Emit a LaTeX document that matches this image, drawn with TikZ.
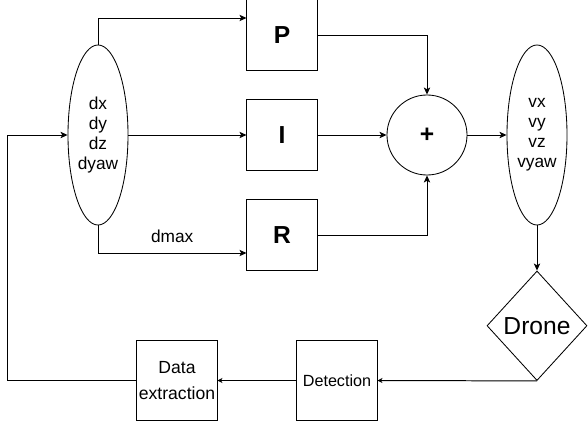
\documentclass[tikz,border=0pt]{standalone}
\usepackage{fontspec}
\setmainfont{Liberation Sans}
\usetikzlibrary{shapes.geometric, arrows.meta, positioning}

\begin{document}
\begin{tikzpicture}[
        x=0.025cm, y=-0.025cm,
        every node/.style={font=\fontsize{12.3}{14.2}\selectfont},
        box/.style={draw, line width=0.7pt, minimum width=1.75cm, minimum height=1.75cm, inner sep=0pt, align=center, font=\fontsize{17.5}{20}\selectfont\bfseries},
        stage/.style={draw, line width=0.7pt, minimum width=2cm, minimum height=2cm, inner sep=0pt, align=center},
        signal/.style={draw, ellipse, line width=0.6pt, minimum width=1.5cm, minimum height=4.5cm, inner sep=0pt, align=center},
        arrow/.style={-{Stealth[length=5pt, width=4.5pt, inset=1.2pt]}, line width=0.7pt},
        small arrow/.style={-{Stealth[length=3.5pt, width=3.5pt, inset=1pt]}, line width=0.7pt}
    ]
        \useasboundingbox (0,0) rectangle (588,421);

        % Error signals in, corrections out
        \node[signal] (err) at (98,135) {dx\\dy\\dz\\dyaw};
        \node[signal] (cmd) at (537,135) {vx\\vy\\vz\\vyaw};

        % Controller terms
        \node[box] (P) at (282,35) {P};
        \node[box] (I) at (282,135) {I};
        \node[box] (R) at (282,235) {R};

        \node[draw, circle, line width=0.6pt, minimum size=2cm, inner sep=0pt, font=\fontsize{17.5}{20}\selectfont\bfseries] (sum) at (427,135) {+};

        % Plant and measurement chain
        \node[draw, diamond, line width=0.6pt, minimum width=2.5cm, minimum height=2.7375cm, inner sep=0pt, font=\fontsize{17.5}{20}\selectfont] (drone) at (537,325.75) {Drone};
        \node[stage, font=\fontsize{11.5}{14}\selectfont] (detect) at (337,380.5) {Detection};
        \node[stage, font=\fontsize{12.5}{18.5}\selectfont] (extract) at (177,380.5) {Data\\extraction};

        % Arrows into the terms
        \draw[arrow] (err.north) |- ([yshift=0.425cm]P.west);
        \draw[arrow] (err.east) -- (I.west);
        \draw[arrow] (err.south) |- ([yshift=-0.45cm]R.west) node[pos=0.75, above=4pt] {dmax};

        % Sum and output
        \draw[arrow] (P.east) -| (sum.north);
        \draw[arrow] (I.east) -- (sum.west);
        \draw[arrow] (R.east) -| (sum.south);
        \draw[arrow] (sum.east) -- (cmd.west);
        \draw[arrow] (cmd.south) -- (drone.north);

        % Feedback loop
        \coordinate (loop) at (7,135);
        \draw[small arrow] (drone.south) -- (detect.east);
        \draw[small arrow] (detect.west) -- (extract.east);
        \draw[arrow] (extract.west) -| (loop) -- (err.west);
    \end{tikzpicture}
\end{document}
